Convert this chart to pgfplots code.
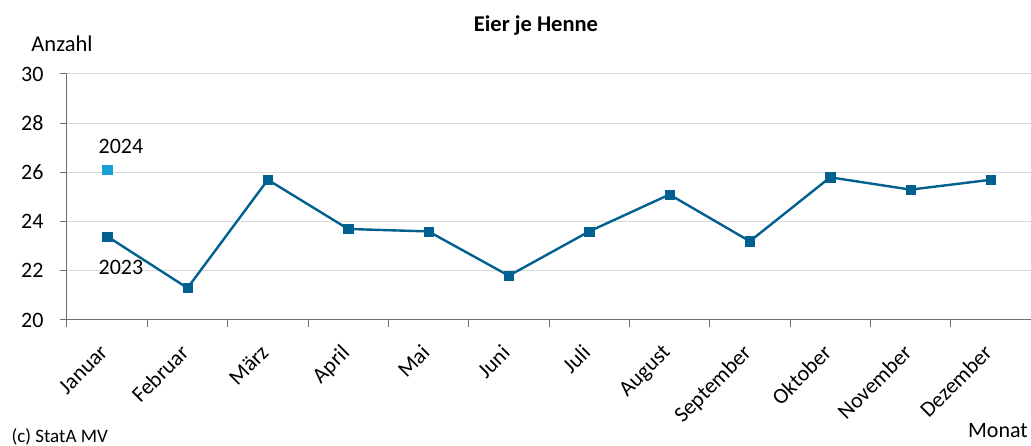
\documentclass[border=0pt]{standalone}
\usepackage{pgfplots}
\pgfplotsset{compat=1.18}
\usepackage{fontspec}
\setmainfont{Carlito}
\definecolor{line23}{RGB}{0,96,143}
\definecolor{pt24}{RGB}{21,160,216}
\definecolor{gridc}{RGB}{217,217,217}
\definecolor{axc}{RGB}{110,110,110}
\begin{document}
\begin{tikzpicture}
\path[use as bounding box] (-67pt,-126pt) rectangle (964pt,320pt);
\begin{axis}[
  at={(0pt,0pt)}, anchor=south west,
  scale only axis, width=964pt, height=246pt,
  xmin=-0.5, xmax=11.5, ymin=20, ymax=30,
  ytick={20,22,...,30},
  xtick={-0.5,0.5,...,11.5},
  x tick label as interval,
  xticklabels={Januar,Februar,März,April,Mai,Juni,Juli,August,September,Oktober,November,Dezember},
  axis x line*=bottom, axis y line*=left,
  ymajorgrids, grid style={gridc, line width=1pt},
  tick align=outside, major tick length=7pt,
  tick style={axc, line width=1pt},
  axis line style={axc, line width=1pt},
  xticklabel style={font=\fontsize{22}{24}\selectfont, inner sep=2pt, xshift=-8.3pt, yshift=-13.5pt, rotate=45, anchor=north east},
  yticklabel style={font=\fontsize{22}{24}\selectfont, xshift=-13pt},
  /pgf/number format/assume math mode=true,
  clip=false,
]
\addplot[line23, line width=2.4pt, mark=square*, mark size=4.6pt, mark options={line width=0.5pt}] coordinates {(0,23.4)(1,21.3)(2,25.7)(3,23.7)(4,23.6)(5,21.8)(6,23.6)(7,25.1)(8,23.2)(9,25.8)(10,25.3)(11,25.7)};
\addplot[only marks, pt24, mark=square*, mark size=4.6pt, mark options={line width=0.5pt}] coordinates {(0,26.1)};
\node[anchor=west, font=\fontsize{22}{24}\selectfont] at (axis cs:-0.15,27.07) {2024};
\node[anchor=west, font=\fontsize{22}{24}\selectfont] at (axis cs:-0.15,22.15) {2023};
\end{axis}
\node[font=\bfseries\fontsize{22.5}{24}\selectfont] at (469pt,294pt) {Eier je Henne};
\node[font=\fontsize{22.5}{24}\selectfont] at (-5pt,276pt) {Anzahl};
\node[font=\fontsize{22}{24}\selectfont] at (931pt,-111pt) {Monat};
\node[anchor=west, font=\fontsize{19}{21}\selectfont] at (-59pt,-117pt) {(c) StatA MV};
\end{tikzpicture}
\end{document}
